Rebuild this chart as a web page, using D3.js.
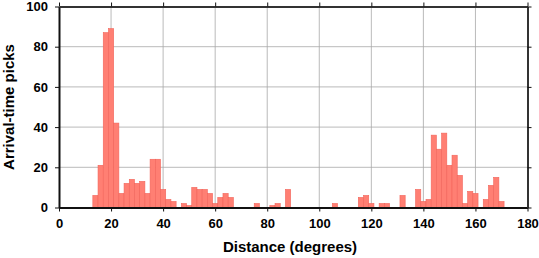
<!DOCTYPE html>
<html>
<head>
<meta charset="utf-8">
<script src="https://cdn.jsdelivr.net/npm/d3@7"></script>
<style>
  body { margin: 0; background: #fff; }
  text { font-family: "Liberation Sans", Arial, sans-serif; font-weight: bold; }
</style>
</head>
<body>
<script>
// histogram bins: left edge (degrees), width 2
var binStarts = [13,15,17,19,21,23,25,27,29,31,33,35,37,39,41,43,47,49,51,53,55,57,59,61,63,65,
                 75,81,83,87,105,115,117,119,123,125,131,137,139,141,143,145,147,149,151,153,155,
                 157,159,163,165,167,169];
var pickCounts = [6,21,87,89,42,7,12,14,12,13,7,24,24,9,4,3,2,1,10,9,9,7,2,5,7,5,
                  2,1,2,9,2,5,6,2,2,2,6,9,3,4,36,29,37,21,26,16,2,
                  8,7,4,11,15,3];
var binWidth = 2;
var xTicks = [0,20,40,60,80,100,120,140,160,180];
var yTicks = [0,20,40,60,80,100];

(function(){

var width = 539, height = 258;
var padLeft = 59, padRight = 527.5, padTop = 6.5, padBottom = 207.5;

var svg = d3.select("body").append("svg")
    .attr("width", width)
    .attr("height", height);

var x = d3.scaleLinear().domain([0, 180]).range([padLeft, padRight]);
var y = d3.scaleLinear().domain([0, 100]).range([padBottom, padTop]);

//grid lines
svg.append("g").selectAll("line")
    .data(xTicks.slice(1, -1))
    .enter().append("line")
    .attr("x1", function(d){ return x(d); })
    .attr("x2", function(d){ return x(d); })
    .attr("y1", padTop).attr("y2", padBottom)
    .attr("stroke", "#a8a8a8").attr("stroke-width", 0.8);
svg.append("g").selectAll("line")
    .data(yTicks.slice(1, -1))
    .enter().append("line")
    .attr("y1", function(d){ return y(d); })
    .attr("y2", function(d){ return y(d); })
    .attr("x1", padLeft).attr("x2", padRight)
    .attr("stroke", "#a8a8a8").attr("stroke-width", 0.8);

//bars
var bins = binStarts.map(function(s, i){ return {start: s, count: pickCounts[i]}; });
svg.append("g").selectAll("rect")
    .data(bins)
    .enter().append("rect")
    .attr("x", function(d){ return x(d.start); })
    .attr("width", function(d){ return x(d.start + binWidth) - x(d.start); })
    .attr("y", function(d){ return y(d.count); })
    .attr("height", function(d){ return y(0) - y(d.count); })
    .attr("fill", "#ff7f73")
    .attr("stroke", "#f2645a")
    .attr("stroke-width", 0.6);

//axes (all four sides, ticks outward)
var tick = 4;
var bAxis = svg.append("g").attr("transform", "translate(0," + padBottom + ")")
    .call(d3.axisBottom(x).tickValues(xTicks).tickSizeInner(tick).tickSizeOuter(0).tickPadding(7));
var lAxis = svg.append("g").attr("transform", "translate(" + padLeft + ",0)")
    .call(d3.axisLeft(y).tickValues(yTicks).tickSizeInner(tick).tickSizeOuter(0).tickPadding(7));
var tAxis = svg.append("g").attr("transform", "translate(0," + padTop + ")")
    .call(d3.axisTop(x).tickValues(xTicks).tickSizeInner(tick).tickSizeOuter(0).tickFormat(""));
var rAxis = svg.append("g").attr("transform", "translate(" + padRight + ",0)")
    .call(d3.axisRight(y).tickValues(yTicks).tickSizeInner(tick).tickSizeOuter(0).tickFormat(""));

[bAxis, lAxis, tAxis, rAxis].forEach(function(a){
    a.select(".domain").attr("stroke", "#111").attr("stroke-width", 2);
    a.selectAll(".tick line").attr("stroke", "#111").attr("stroke-width", 1);
    a.selectAll(".tick text")
        .attr("fill", "#000")
        .style("font-family", "'Liberation Sans', Arial, sans-serif")
        .style("font-weight", "bold")
        .style("font-size", "13px");
});
tAxis.select(".domain").attr("stroke", "#333");
rAxis.select(".domain").attr("stroke", "#333");

//axis titles
svg.append("text")
    .attr("x", 290)
    .attr("y", 252)
    .attr("text-anchor", "middle")
    .style("font-size", "15px")
    .text("Distance (degrees)");

svg.append("text")
    .attr("transform", "translate(14," + ((padTop + padBottom) / 2) + ") rotate(-90)")
    .attr("text-anchor", "middle")
    .style("font-size", "15px")
    .text("Arrival-time picks");

})();
</script>
</body>
</html>
